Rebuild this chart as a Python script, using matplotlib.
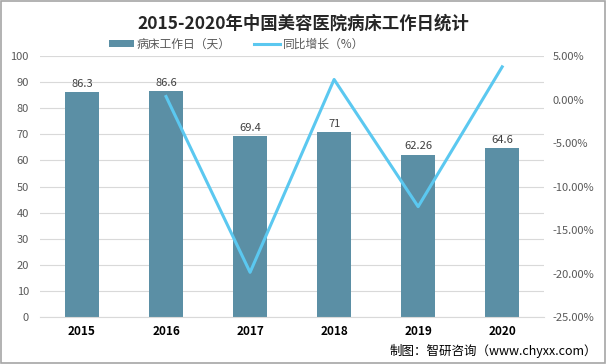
import matplotlib
matplotlib.use("Agg")
import matplotlib.pyplot as plt
from matplotlib.ticker import FuncFormatter

plt.rcParams['font.family'] = ['Noto Sans CJK SC', 'DejaVu Sans']

years = ['2015', '2016', '2017', '2018', '2019', '2020']
bed_days = [86.3, 86.6, 69.4, 71, 62.26, 64.6]
bed_labels = ['86.3', '86.6', '69.4', '71', '62.26', '64.6']
growth_years = ['2016', '2017', '2018', '2019', '2020']
growth = [0.35, -19.86, 2.31, -12.31, 3.76]

bar_color = '#5B8FA5'
line_color = '#5BC8F0'
tick_color = '#595959'

fig = plt.figure(figsize=(6.06, 3.64), dpi=100)
ax = fig.add_axes([0.066, 0.129, 0.832, 0.717])
x = list(range(len(years)))
ax.bar(x, bed_days, width=0.41, color=bar_color, zorder=2, label='病床工作日（天）')
for xi, v, s in zip(x, bed_days, bed_labels):
    ax.text(xi, v + 1.2, s, ha='center', va='bottom', fontsize=8, color='#404040')
ax.set_ylim(0, 100)
ax.set_yticks(range(0, 101, 10))
ax.set_xlim(-0.5, len(years) - 0.5)
ax.set_xticks(x)
ax.set_xticklabels(years, fontsize=8.5, fontweight='bold', color='#000000')
ax.tick_params(axis='y', labelsize=8, colors=tick_color, length=0, pad=8)
ax.tick_params(axis='x', length=0, pad=6)
ax.grid(axis='y', color='#D9D9D9', linewidth=0.8, zorder=0)
for sp in ax.spines.values():
    sp.set_visible(False)
ax.spines['bottom'].set_visible(True)
ax.spines['bottom'].set_color('#D9D9D9')

ax2 = ax.twinx()
gx = [years.index(y) for y in growth_years]
ax2.plot(gx, growth, color=line_color, linewidth=2.2, zorder=3, label='同比增长（%）')
ax2.set_ylim(-25, 5)
ax2.set_yticks(range(-25, 6, 5))
ax2.yaxis.set_major_formatter(FuncFormatter(lambda v, p: f'{v:.2f}%'))
ax2.tick_params(axis='y', labelsize=8, colors=tick_color, length=0, pad=6)
for sp in ax2.spines.values():
    sp.set_visible(False)

fig.text(0.5, 0.935, '2015-2020年中国美容医院病床工作日统计', ha='center', va='center',
         fontsize=12.5, fontweight='bold', color='#262626')

h1, l1 = ax.get_legend_handles_labels()
h2, l2 = ax2.get_legend_handles_labels()
fig.legend(h1 + h2, l1 + l2, loc='center', bbox_to_anchor=(0.39, 0.878), ncol=2,
           frameon=False, fontsize=8.5, handlelength=2.2, handleheight=0.6,
           handletextpad=0.2, columnspacing=2.0, labelcolor=tick_color)

fig.text(0.985, 0.035, '制图：智研咨询（www.chyxx.com）', ha='right', va='center',
         fontsize=9, color='#000000')

border = plt.Rectangle((0.001, 0.002), 0.997, 0.995, transform=fig.transFigure,
                       fill=False, edgecolor='#A6A6A6', linewidth=1.2)
fig.patches.append(border)

fig.savefig('out.png', dpi=100)
